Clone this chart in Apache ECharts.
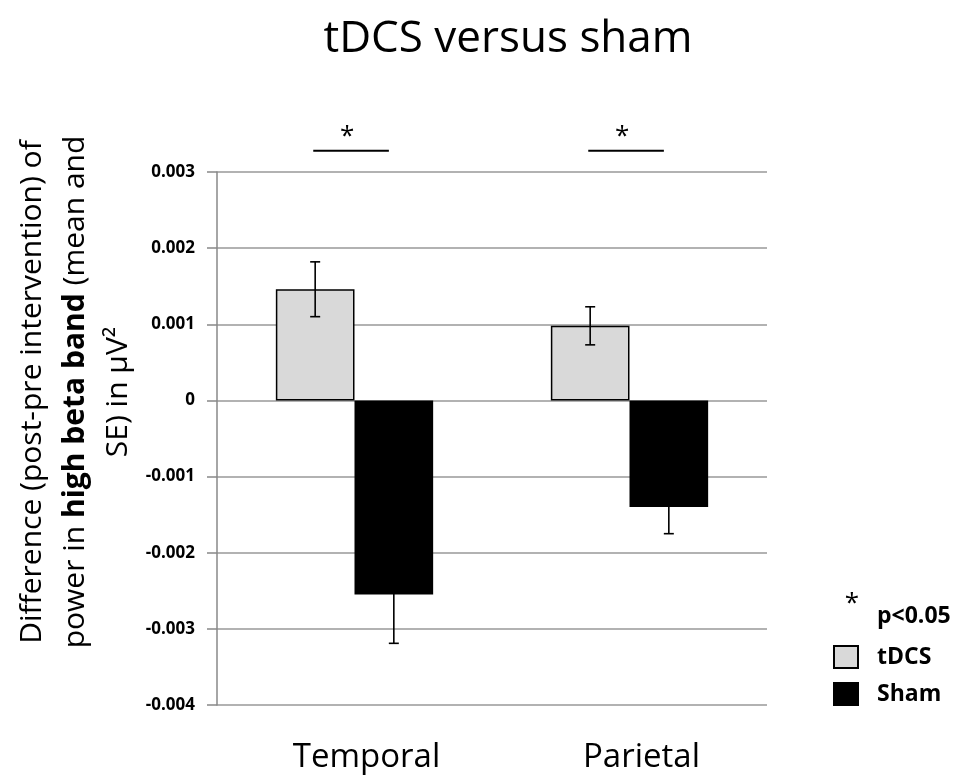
<!DOCTYPE html>
<html>
<head>
<meta charset="utf-8">
<script src="https://cdn.jsdelivr.net/npm/echarts@6/dist/echarts.min.js"></script>
<style>html,body{margin:0;padding:0;background:#fff;}#c{width:967px;height:776px;}</style>
</head>
<body>
<div id="c"></div>
<script>
// ---- data ----
const categories = ['Temporal', 'Parietal'];
const seriesNames = ['tDCS', 'Sham'];
const tdcsMean = [0.00146, 0.00098];
const tdcsSE = [0.00036, 0.00025];
const shamMean = [-0.00255, -0.00140];
const shamSE = [0.00064, 0.00035];
const yMin = -0.004, yMax = 0.003, yStep = 0.001;
const sigLevel = 0.00328;
const sigMark = '*';
const sigNote = 'p<0.05';
const titleText = 'tDCS versus sham';

const FONT = 'Open Sans';
const chart = echarts.init(document.getElementById('c'));
const BARW = 0.286;

function errData(mean, se) { return mean.map((m, i) => [i, m - se[i], m + se[i]]); }
function errRender(side) {
  return function (params, api) {
    const x = api.value(0);
    const lo = api.coord([x, api.value(1)]);
    const hi = api.coord([x, api.value(2)]);
    const band = api.size([1, 0])[0];
    const cx = lo[0] + side * band * BARW / 2;
    const cap = 5;
    const st = { stroke: '#000', lineWidth: 1.6 };
    return { type: 'group', children: [
      { type: 'line', shape: { x1: cx, y1: lo[1], x2: cx, y2: hi[1] }, style: st },
      { type: 'line', shape: { x1: cx - cap, y1: lo[1], x2: cx + cap, y2: lo[1] }, style: st },
      { type: 'line', shape: { x1: cx - cap, y1: hi[1], x2: cx + cap, y2: hi[1] }, style: st }
    ]};
  };
}

chart.setOption({
  animation: false,
  backgroundColor: '#fff',
  title: {
    text: titleText, left: 503, top: 12, textAlign: 'center',
    textStyle: { fontFamily: FONT, fontSize: 44, fontWeight: 'normal', color: '#000' }
  },
  grid: { left: 217, right: 200, top: 172, bottom: 71 },
  legend: {
    data: seriesNames, orient: 'vertical', left: 833, top: 645, padding: 0,
    itemWidth: 24, itemHeight: 22, itemGap: 13, icon: 'rect',
    textStyle: { fontFamily: FONT, fontSize: 23, fontWeight: 'bold', color: '#000', padding: [0, 0, 0, 14] }
  },
  xAxis: {
    type: 'category', data: categories,
    axisLine: { show: false }, axisTick: { show: false },
    axisLabel: { fontFamily: FONT, fontSize: 33, color: '#000', margin: 36, padding: [0, 0, 0, 24] }
  },
  yAxis: {
    type: 'value', min: yMin, max: yMax, interval: yStep,
    axisLine: { show: true, lineStyle: { color: '#888', width: 1.5 } },
    axisTick: { show: true, length: 10, lineStyle: { color: '#888', width: 1.5 } },
    splitLine: { show: true, lineStyle: { color: '#999', width: 1.5 } },
    axisLabel: {
      fontFamily: FONT, fontSize: 17, fontWeight: 'bold', color: '#000', margin: 22,
      formatter: v => Math.abs(v) < 1e-12 ? '0' : v.toFixed(3)
    }
  },
  graphic: [
    {
      type: 'text', x: 75, y: 392, rotation: Math.PI / 2,
      style: {
        text: 'Difference (post-pre intervention) of\npower in {b|high beta band} (mean and\nSE) in µV²',
        fontFamily: FONT, fontSize: 30, fill: '#000', align: 'center', verticalAlign: 'middle',
        lineHeight: 43,
        rich: { b: { fontFamily: FONT, fontSize: 30, fontWeight: 'bold', lineHeight: 43 } }
      }
    },
    { type: 'text', x: 852, y: 604, style: { text: sigMark, fontFamily: FONT, fontSize: 26, fill: '#000', align: 'center', verticalAlign: 'middle' } },
    { type: 'text', x: 877, y: 616, style: { text: sigNote, fontFamily: FONT, fontSize: 23, fontWeight: 'bold', fill: '#000', align: 'left', verticalAlign: 'middle' } }
  ],
  series: [
    {
      name: seriesNames[0], type: 'bar', data: tdcsMean, barWidth: (BARW * 100) + '%', barGap: '0%',
      itemStyle: { color: '#d9d9d9', borderColor: '#000', borderWidth: 1.5 }
    },
    {
      name: seriesNames[1], type: 'bar', data: shamMean, barWidth: (BARW * 100) + '%', barGap: '0%',
      itemStyle: { color: '#000', borderColor: '#000', borderWidth: 1.5 }
    },
    { type: 'custom', renderItem: errRender(-1), data: errData(tdcsMean, tdcsSE), encode: { x: 0, y: [1, 2] }, z: 5 },
    { type: 'custom', renderItem: errRender(1), data: errData(shamMean, shamSE), encode: { x: 0, y: [1, 2] }, z: 5 },
    {
      type: 'custom', clip: false, z: 5,
      data: categories.map((c, i) => [i, sigLevel]),
      encode: { x: 0, y: 1 },
      renderItem: function (params, api) {
        const p = api.coord([api.value(0), api.value(1)]);
        const band = api.size([1, 0])[0];
        const x1 = p[0] - 0.15 * band, x2 = p[0] + 0.125 * band;
        return { type: 'group', children: [
          { type: 'line', shape: { x1: x1, y1: p[1], x2: x2, y2: p[1] }, style: { stroke: '#000', lineWidth: 2 } },
          { type: 'text', style: { x: (x1 + x2) / 2 - 4, y: p[1] - 14, text: sigMark, fontFamily: FONT, fontSize: 26, fill: '#000', align: 'center', verticalAlign: 'middle' } }
        ]};
      }
    }
  ]
});
</script>
</body>
</html>
